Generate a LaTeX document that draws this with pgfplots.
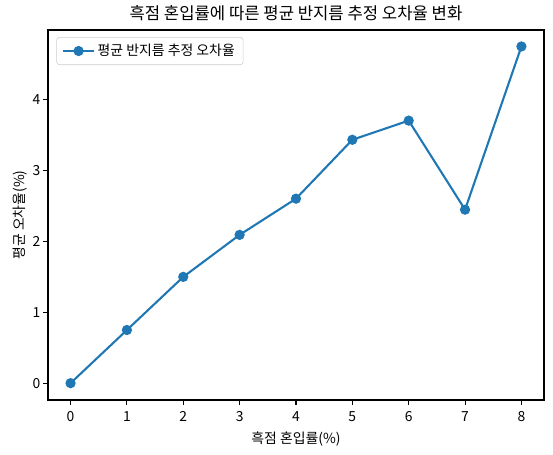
\documentclass[border=0pt]{standalone}
\usepackage{pgfplots}
\pgfplotsset{compat=1.18}
\usepackage{fontspec}
\setmainfont{Noto Sans CJK KR}
\definecolor{c0}{HTML}{1F77B4}
\begin{document}
\begin{tikzpicture}[x=1bp,y=1bp]
\path[use as bounding box] (-34.56bp,-39.6bp) rectangle (363.6bp,288bp);
\begin{axis}[
  at={(0,0)}, anchor=south west,
  scale only axis, width=357.1bp, height=266.4bp,
  xmin=-0.4, xmax=8.4, ymin=-0.237, ymax=4.977,
  xtick={0,...,8}, ytick={0,...,4},
  xtick pos=bottom, ytick pos=left,
  tick align=outside, tick style={black, line width=0.8bp},
  major tick length=3.5bp,
  axis line style={line width=0.8bp},
  /pgf/number format/assume math mode=true,
  ticklabel style={font=\fontsize{10bp}{12bp}\selectfont},
  xticklabel style={yshift=-1.5bp},
  yticklabel style={xshift=1.5bp},
  title={흑점 혼입률에 따른 평균 반지름 추정 오차율 변화},
  title style={font=\fontsize{12bp}{14bp}\selectfont, yshift=-3bp},
  xlabel={흑점 혼입률(\%)},
  ylabel={평균 오차율(\%)},
  label style={font=\fontsize{10bp}{12bp}\selectfont},
  xlabel style={yshift=0bp},
  ylabel style={yshift=-3bp},
  legend style={font=\fontsize{10bp}{12bp}\selectfont, draw=black!20, rounded corners=2bp, inner xsep=4bp, inner ysep=3bp, at={(0.017,0.981)}, anchor=north west},
  legend cell align=left,
  legend image code/.code={\draw[mark repeat=2,mark phase=2] plot coordinates {(0bp,0bp) (11bp,0bp) (22bp,0bp)};},
]
\addplot[c0, line width=1.5bp, mark=*, mark size=2.9bp, mark options={fill=c0, draw=c0}] coordinates {
(0,0) (1,0.749) (2,1.498) (3,2.09) (4,2.60) (5,3.43) (6,3.70) (7,2.445) (8,4.745)
};
\addlegendentry{평균 반지름 추정 오차율}
\end{axis}
\end{tikzpicture}
\end{document}
